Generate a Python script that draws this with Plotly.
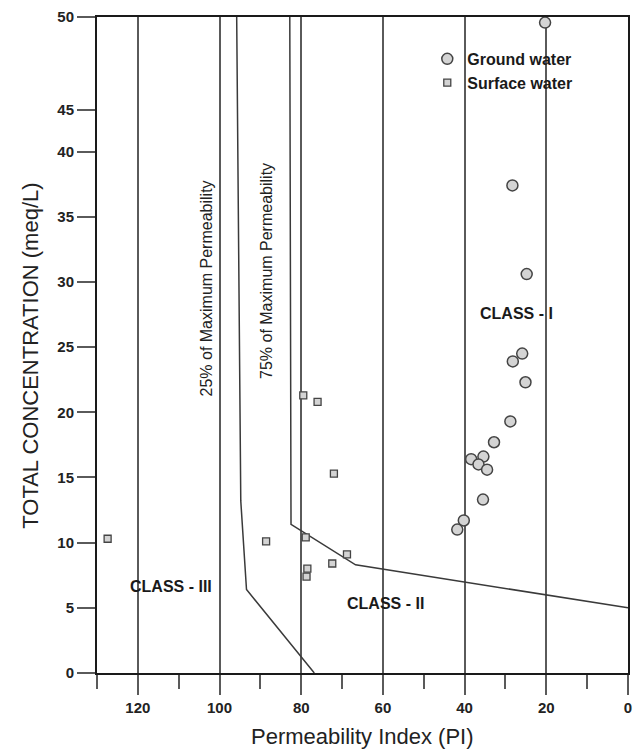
import plotly.graph_objects as go

# ---------------- data ----------------
ground_pi = [20.3, 28.3, 24.8, 25.9, 28.2, 25.1, 28.8, 32.8, 38.4, 35.4, 36.6, 34.5, 35.5, 40.2, 41.8]
ground_tc = [49.7, 37.4, 30.6, 24.5, 23.9, 22.3, 19.3, 17.7, 16.4, 16.6, 16.0, 15.6, 13.3, 11.7, 11.0]

surface_pi = [127.4, 88.6, 78.9, 72.4, 68.8, 78.5, 78.7, 79.5, 76.0, 72.0]
surface_tc = [10.3, 10.1, 10.4, 8.4, 9.1, 8.0, 7.4, 21.3, 20.8, 15.3]

curve25_pi = [95.8, 94.8, 93.4, 76.8]
curve25_tc = [50, 13.2, 6.4, 0]
curve75_pi = [82.8, 82.5, 66.7, 0]
curve75_tc = [50, 11.4, 8.3, 5.0]

y_tick_values = [0, 5, 10, 15, 20, 25, 30, 35, 40, 45, 50]
y_tick_labels = [str(v) for v in y_tick_values]
x_tick_values = [0, 20, 40, 60, 80, 100, 120]


# The original diagram uses a stretched scale above 40 meq/L
def ydisp(v):
    if v <= 40:
        return v
    if v <= 45:
        return 40 + (v - 40) * (42 / 65.4)
    return 40 + 5 * (42 / 65.4) + (v - 45) * (93 / 65.4)


def ymap(vals):
    return [ydisp(v) for v in vals]


FONT = "Liberation Sans, Arial, sans-serif"
LINE = "#3a3a3a"
GRID = "#5a5a5a"

fig = go.Figure()

fig.add_trace(go.Scatter(x=curve25_pi, y=ymap(curve25_tc), mode="lines",
                         line=dict(color=LINE, width=1.5), showlegend=False, hoverinfo="skip"))
fig.add_trace(go.Scatter(x=curve75_pi, y=ymap(curve75_tc), mode="lines",
                         line=dict(color=LINE, width=1.5), showlegend=False, hoverinfo="skip"))

fig.add_trace(go.Scatter(x=ground_pi, y=ymap(ground_tc), mode="markers", name="Ground water",
                         marker=dict(symbol="circle", size=11, color="#d4d4d4",
                                     line=dict(color="#444444", width=1.5)),
                         cliponaxis=False))
fig.add_trace(go.Scatter(x=surface_pi, y=ymap(surface_tc), mode="markers", name="Surface water",
                         marker=dict(symbol="square", size=7, color="#d4d4d4",
                                     line=dict(color="#444444", width=1.3))))

ann_font = dict(family=FONT, size=16, color="#222222")
cls_font = dict(family=FONT, size=16, color="#1a1a1a", weight="bold")
fig.add_annotation(x=103.3, y=29.5, text="25% of Maximum Permeability", textangle=-90,
                   showarrow=False, font=ann_font)
fig.add_annotation(x=88.5, y=30.8, text="75% of Maximum Permeability", textangle=-90,
                   showarrow=False, font=ann_font)
fig.add_annotation(x=27.3, y=27.6, text="CLASS - I", showarrow=False, font=cls_font)
fig.add_annotation(x=59.3, y=5.3, text="CLASS - II", showarrow=False, font=cls_font)
fig.add_annotation(x=112.0, y=6.6, text="CLASS - III", showarrow=False, font=cls_font)

# axis titles
fig.add_annotation(xref="paper", yref="paper", x=0.5, y=-0.0973, yanchor="middle",
                   text="Permeability Index (PI)", showarrow=False,
                   font=dict(family=FONT, size=22, color="#222222"))
fig.add_annotation(xref="paper", yref="paper", x=-0.125, y=0.483, xanchor="center",
                   text="TOTAL CONCENTRATION (meq/L)", textangle=-90, showarrow=False,
                   font=dict(family=FONT, size=22, color="#222222"))

tick_font = dict(family=FONT, size=15, color="#222222", weight="bold")

fig.update_xaxes(range=[130, 0], tickmode="array", tickvals=x_tick_values,
                 ticks="outside", ticklen=20, tickwidth=1.5, tickcolor=GRID,
                 minor=dict(dtick=10, tick0=0, ticks="outside", ticklen=14, tickwidth=1.5,
                            tickcolor=GRID, showgrid=False),
                 showgrid=True, gridcolor=GRID, gridwidth=1.5,
                 showline=True, linecolor="#1a1a1a", linewidth=2, mirror=True,
                 zeroline=False, tickfont=tick_font)
fig.update_yaxes(range=[0, ydisp(50)], tickmode="array", tickvals=ymap(y_tick_values),
                 ticktext=y_tick_labels, ticks="outside", ticklen=18, tickwidth=1.5,
                 tickcolor=GRID, showgrid=False,
                 showline=True, linecolor="#1a1a1a", linewidth=2, mirror=True,
                 zeroline=False, tickfont=tick_font)

fig.update_layout(
    width=640, height=751,
    margin=dict(l=97, r=8, t=15, b=78),
    plot_bgcolor="white", paper_bgcolor="white",
    font=dict(family=FONT),
    legend=dict(x=0.622, y=0.962, xanchor="left", yanchor="top",
                bgcolor="rgba(0,0,0,0)",
                font=dict(family=FONT, size=16, color="#1a1a1a", weight="bold"),
                tracegroupgap=0, itemwidth=30),
)

fig.write_html("out.html", config={"displayModeBar": False},
               post_script="document.body.style.margin='0';document.body.style.overflow='hidden';")
